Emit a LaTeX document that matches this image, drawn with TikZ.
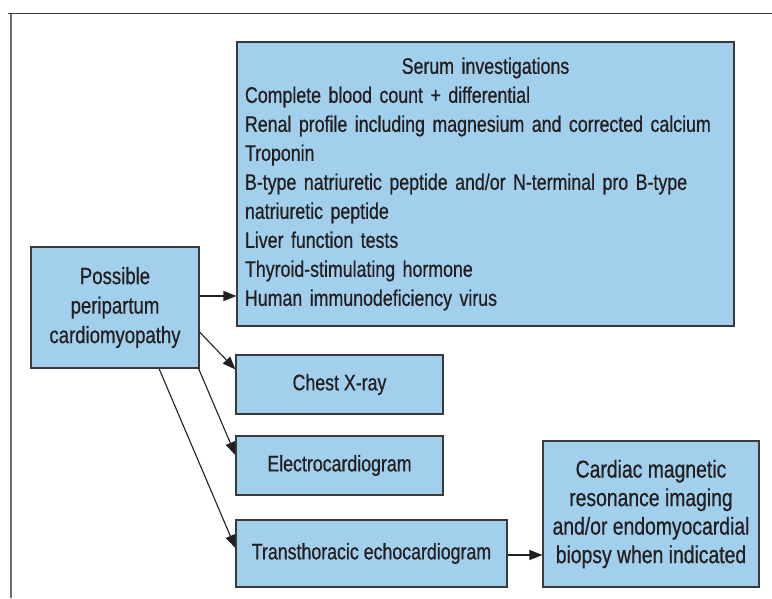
\documentclass[tikz,border=0pt]{standalone}
\usepackage{fontspec}
\setmainfont{Liberation Sans}[FakeStretch=0.79, FakeBold=0.6]
\usetikzlibrary{arrows.meta,positioning,calc}
\definecolor{boxblue}{HTML}{A1CFEC}
\definecolor{boxline}{HTML}{3A3A3C}
\definecolor{ink}{HTML}{231F20}
\definecolor{framegray}{HTML}{6D6E70}
\tikzset{
  stepbox/.style={draw=boxline, fill=boxblue, line width=1.1pt, inner sep=0pt,
                  align=center, text=ink, font=\fontsize{22.5}{29}\selectfont},
  bigbox/.style={stepbox, font=\fontsize{24.5}{28.5}\selectfont},
  arr/.style={-{Triangle[length=13pt,width=10pt]}, line width=1.1pt, color=ink}}

\begin{document}
\begin{tikzpicture}[x=1pt, y=-1pt]
  \useasboundingbox (0,0) rectangle (772,598);
  % frame of the figure
  \draw[framegray, line width=1.4pt] (11,598) -- (11,13);
  \draw[boxline, line width=1pt] (8,13) -- (772,13);

  \node[stepbox, font=\fontsize{23.5}{29.5}\selectfont,
        minimum width=168pt, minimum height=121pt] (poss) at (115,307.5)
    {Possible\\peripartum\\cardiomyopathy};
  \node[stepbox, align=left, text width=481pt, inner xsep=8pt,
        minimum width=497pt, minimum height=284pt] (serum) at (485.5,184)
    {\makebox[481pt]{Serum investigations}\\
     Complete blood count + differential\\
     Renal profile including magnesium and corrected calcium\\
     Troponin\\
     B-type natriuretic peptide and/or N-terminal pro B-type\\
     natriuretic peptide\\
     Liver function tests\\
     Thyroid-stimulating hormone\\
     Human immunodeficiency virus};
  \node[stepbox, minimum width=207pt, minimum height=59pt] (cxr) at (339.5,384.5)
    {Chest X-ray};
  \node[stepbox, minimum width=207pt, minimum height=59pt] (ecg) at (339.5,465.5)
    {Electrocardiogram};
  \node[stepbox, minimum width=271pt, minimum height=67pt] (echo) at (371.5,553.5)
    {Transthoracic echocardiogram};
  \node[bigbox, minimum width=216pt, minimum height=146pt] (cmr) at (651,514)
    {Cardiac magnetic\\resonance imaging\\and/or endomyocardial\\biopsy when indicated};

  % connectors
  \draw[arr] ([yshift=11.5pt]poss.east) -- ([yshift=11.5pt]poss.east -| serum.west);
  \draw[arr] ([yshift=-24.5pt]poss.east) -- ([yshift=-15pt]cxr.north west);
  \draw[arr] ([xshift=-1pt]poss.south east) -- ([yshift=10.5pt]ecg.west);
  \draw[arr] ([xshift=44pt]poss.south) -- ([yshift=5.5pt]echo.west);
  \draw[arr] ([yshift=-1.5pt]echo.east) -- ([yshift=-1.5pt]echo.east -| cmr.west);
\end{tikzpicture}
\end{document}
